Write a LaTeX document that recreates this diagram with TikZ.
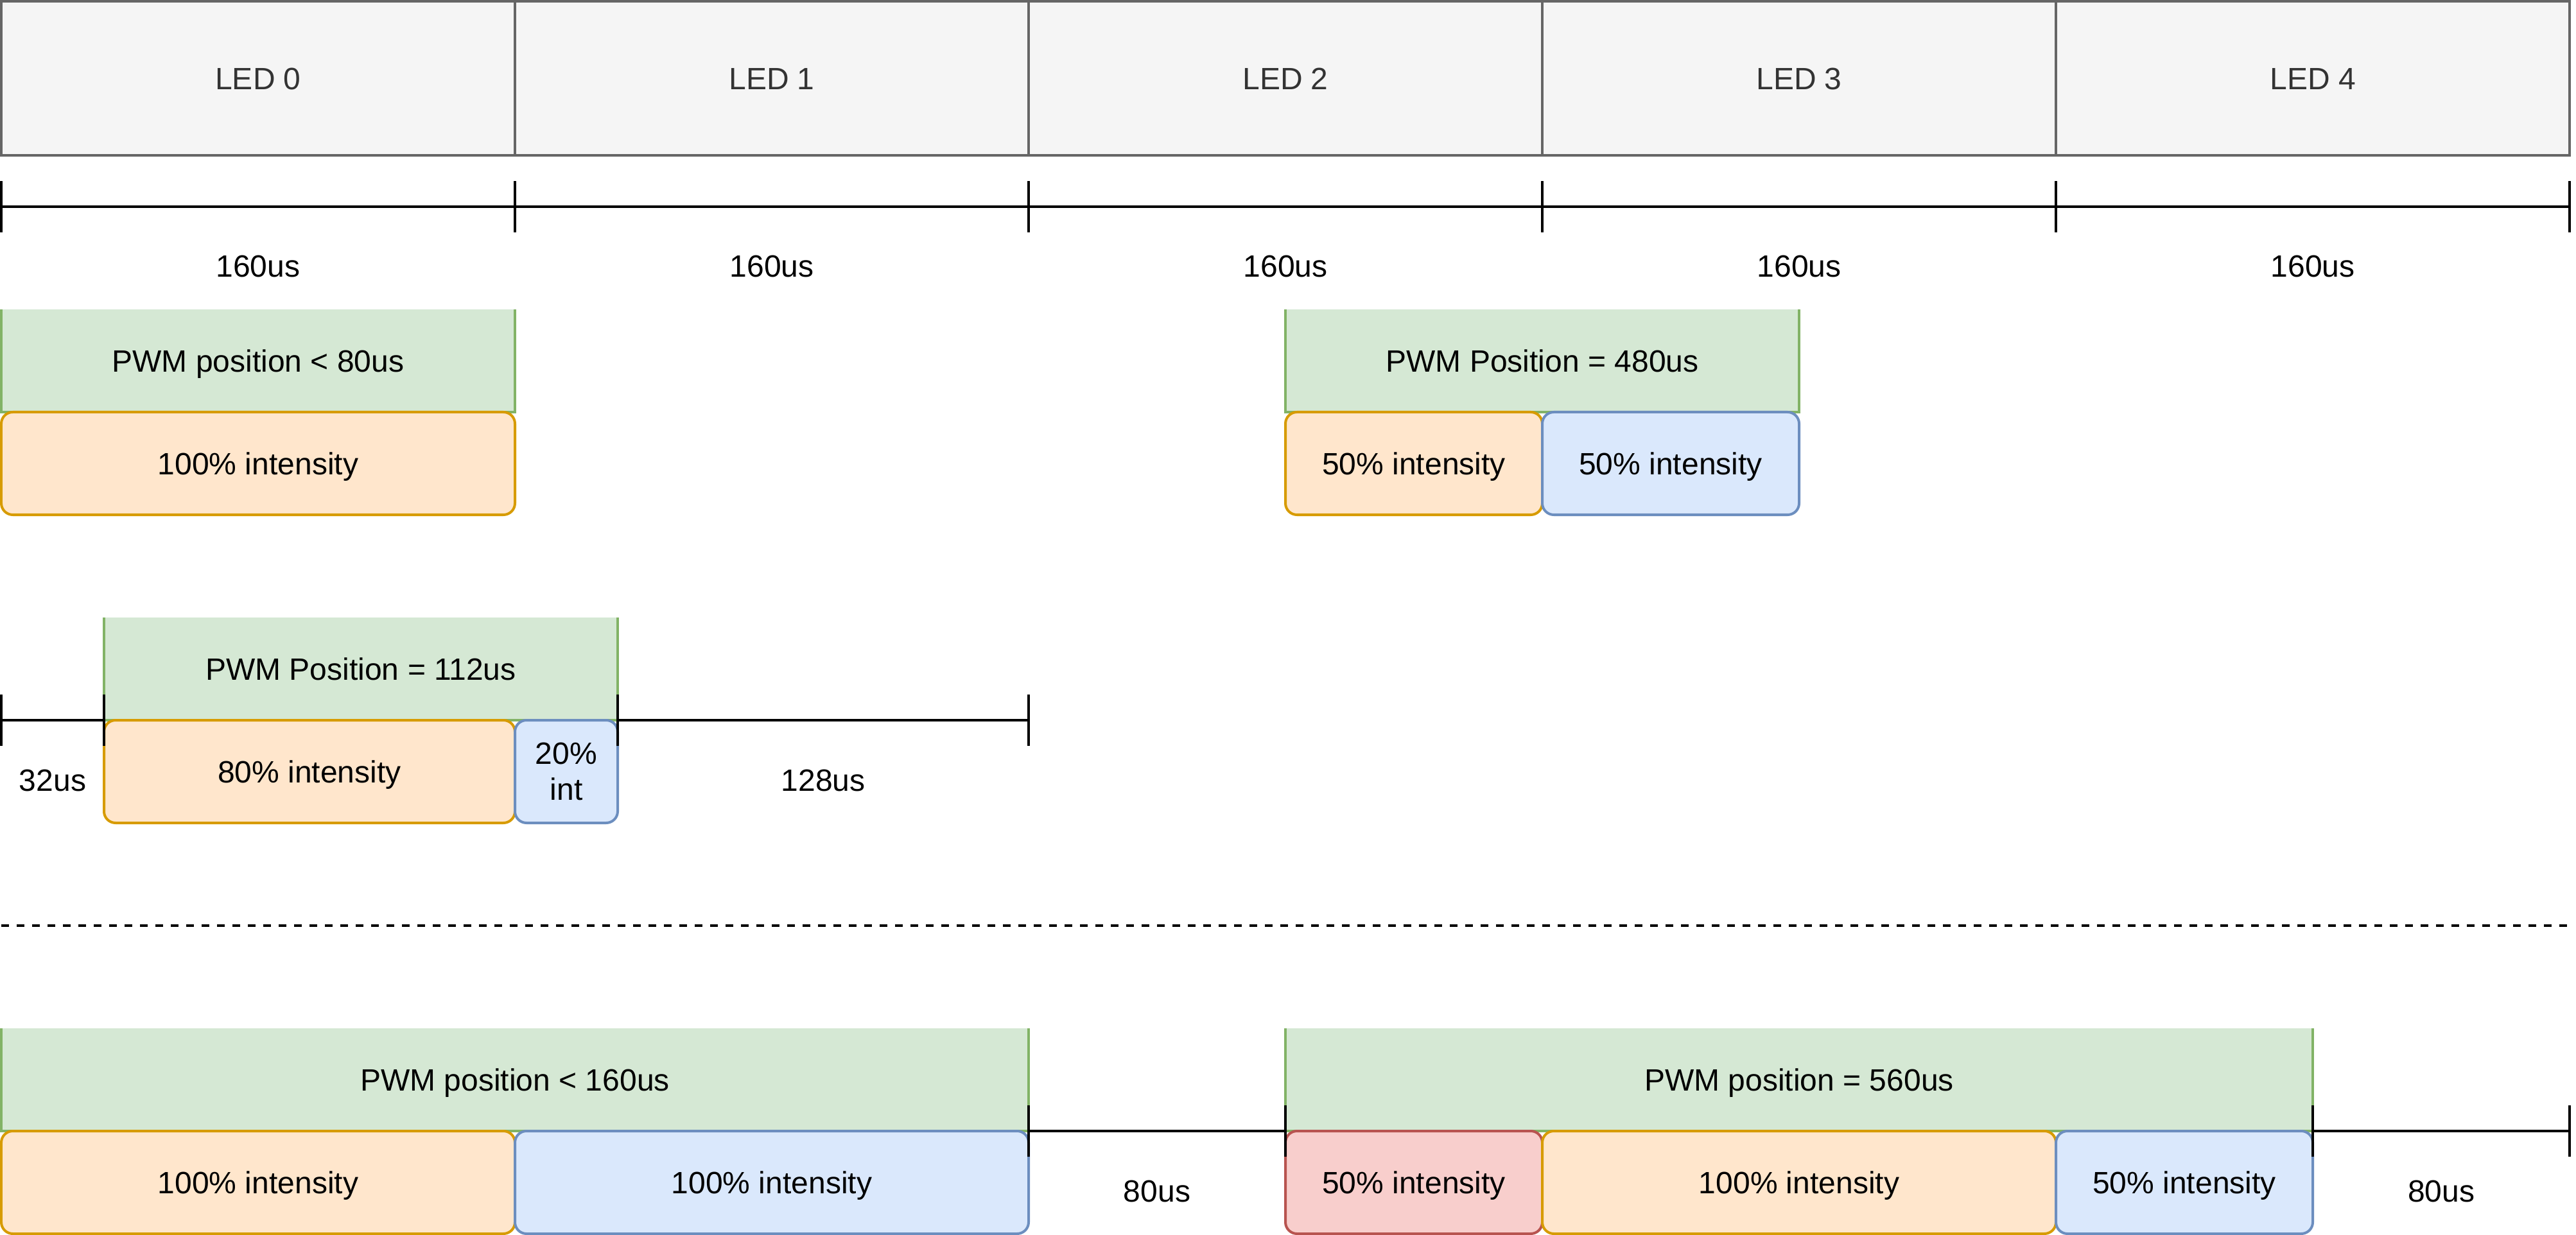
\documentclass[tikz,border=0pt]{standalone}
\usepackage{fontspec}
\setmainfont{Liberation Sans}
\usetikzlibrary{arrows.meta}
\definecolor{ledfill}{HTML}{F5F5F5}
\definecolor{ledstroke}{HTML}{666666}
\definecolor{ledtext}{HTML}{333333}
\definecolor{gfill}{HTML}{D5E8D4}
\definecolor{gstroke}{HTML}{82B366}
\definecolor{ofill}{HTML}{FFE6CC}
\definecolor{ostroke}{HTML}{D79B00}
\definecolor{bfill}{HTML}{DAE8FC}
\definecolor{bstroke}{HTML}{6C8EBF}
\definecolor{rfill}{HTML}{F8CECC}
\definecolor{rstroke}{HTML}{B85450}
\tikzset{
  basenode/.style={inner sep=0pt, outer sep=0pt, line width=1pt, font=\fontsize{12}{13.8}\selectfont},
  lbl/.style={basenode, text height=8.6pt, text depth=0pt},
  ledbox/.style={lbl, draw=ledstroke, fill=ledfill, text=ledtext, minimum width=200pt, minimum height=60pt},
  pwmbox/.style={lbl, fill=gfill, minimum height=40pt},
  pwmline/.style={draw=gstroke, line width=1pt},
  obox/.style={lbl, draw=ostroke, fill=ofill, rounded corners=4.5pt, minimum height=40pt},
  bbox/.style={lbl, draw=bstroke, fill=bfill, rounded corners=4.5pt, minimum height=40pt},
  rbox/.style={lbl, draw=rstroke, fill=rfill, rounded corners=4.5pt, minimum height=40pt},
  span/.style={line width=1pt, {Bar[width=20pt]}-{Bar[width=20pt]}, shorten <=-0.5pt, shorten >=-0.5pt},
  spanstart/.style={line width=1pt, {Bar[width=20pt]}-, shorten <=-0.5pt},
  sepline/.style={line width=1pt, dash pattern=on 3pt off 3pt}
}
\begin{document}
\begin{tikzpicture}[x=1pt,y=-1pt]
\useasboundingbox (-0.5,-0.5) rectangle (1002.5,480.5);
% LED header
\foreach \k in {0,...,4}{
  \node[ledbox] (led\k) at ({100+200*\k},30) {LED \k};
  \node[lbl] (t\k) at ({100+200*\k},103.2) {160us};
}
\foreach \k in {0,...,5}{
  \coordinate (tk\k) at ({200*\k},80);
}
\foreach \a/\b in {0/1,1/2,2/3,3/4}{
  \draw[spanstart] (tk\a) -- (tk\b);
}
\draw[span] (tk4) -- (tk5);
% PWM < 80us
\node[pwmbox, minimum width=200pt] (g1) at (100,140) {PWM position < 80us};
\draw[pwmline] (g1.north west) -- (g1.south west) -- (g1.south east) -- (g1.north east);
\node[obox, minimum width=200pt] (o1) at (100,180) {100\% intensity};
% PWM = 480us
\node[pwmbox, minimum width=200pt] (g2) at (600,140) {PWM Position = 480us};
\draw[pwmline] (g2.north west) -- (g2.south west) -- (g2.south east) -- (g2.north east);
\node[obox, minimum width=100pt] (o2) at (550,180) {50\% intensity};
\node[bbox, minimum width=100pt] (b2) at (650,180) {50\% intensity};
% PWM = 112us
\node[pwmbox, minimum width=200pt] (g3) at (140,260) {PWM Position = 112us};
\draw[pwmline] (g3.north west) -- (g3.south west) -- (g3.south east) -- (g3.north east);
\node[obox, minimum width=160pt] (o3) at (120,300) {80\% intensity};
\node[basenode, draw=bstroke, fill=bfill, rounded corners=4.5pt, minimum height=40pt, minimum width=40pt, align=center] (b3) at (220,300) {20\%\\int};
\coordinate (m0) at (0,280);
\coordinate (m1) at (40,280);
\coordinate (m2) at (240,280);
\coordinate (m3) at (400,280);
\draw[span] (m0) -- (m1);
\draw[span] (m2) -- (m3);
\node[lbl] (l32) at (20,303.2) {32us};
\node[lbl] (l128) at (320,303.2) {128us};
% separator
\coordinate (s0) at (0,360);
\coordinate (s1) at (1000,360);
\draw[sepline] (s0) -- (s1);
% PWM < 160us
\node[pwmbox, minimum width=400pt] (g4) at (200,420) {PWM position < 160us};
\draw[pwmline] (g4.north west) -- (g4.south west) -- (g4.south east) -- (g4.north east);
\node[obox, minimum width=200pt] (o4) at (100,460) {100\% intensity};
\node[bbox, minimum width=200pt] (b4) at (300,460) {100\% intensity};
% PWM = 560us
\node[pwmbox, minimum width=400pt] (g5) at (700,420) {PWM position = 560us};
\draw[pwmline] (g5.north west) -- (g5.south west) -- (g5.south east) -- (g5.north east);
\node[rbox, minimum width=100pt] (r5) at (550,460) {50\% intensity};
\node[obox, minimum width=200pt] (o5) at (700,460) {100\% intensity};
\node[bbox, minimum width=100pt] (b5) at (850,460) {50\% intensity};
\coordinate (c0) at (400,440);
\coordinate (c1) at (500,440);
\coordinate (c2) at (900,440);
\coordinate (c3) at (1000,440);
\draw[span] (c0) -- (c1);
\draw[span] (c2) -- (c3);
\node[lbl] (l80a) at (450,463.2) {80us};
\node[lbl] (l80b) at (950,463.2) {80us};
\end{tikzpicture}
\end{document}
